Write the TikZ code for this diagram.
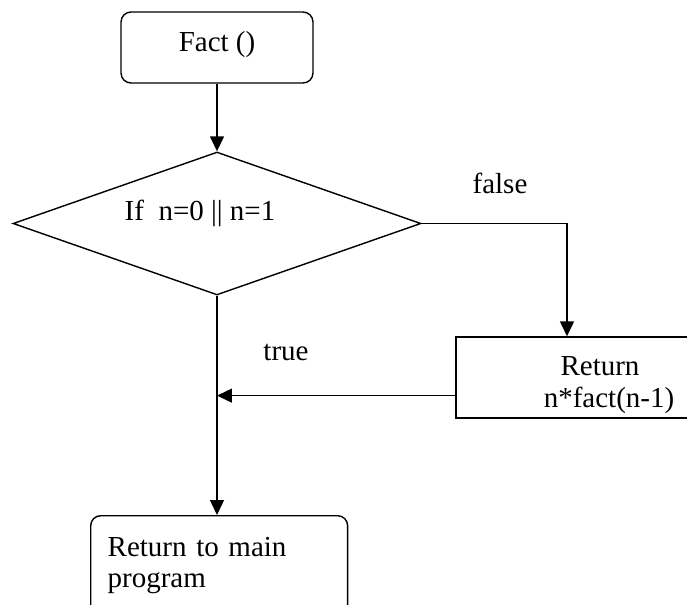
\documentclass[tikz,border=0pt]{standalone}
\usepackage{fontspec}
\setmainfont{Liberation Serif}
\usetikzlibrary{positioning, shapes.geometric, arrows.meta, calc}

\begin{document}
\begin{tikzpicture}[
    x=0.02cm, y=-0.02cm, % pixel grid of the reference
    thick,
    font=\fontsize{16.5}{17.6}\selectfont,
    arrow/.style={
        -{Triangle[length=0.3cm, width=0.28cm]},
        thick
    },
    roundbox/.style={
        rectangle,
        rounded corners=0.2cm,
        draw,
        thick
    },
    plainbox/.style={
        rectangle,
        draw,
        thick
    },
    decision/.style={
        diamond,
        aspect=2.85,
        inner sep=0pt,
        minimum width=8.16cm,
        minimum height=2.86cm,
        draw,
        thick
    }
]
    \useasboundingbox (0,0) rectangle (687,605);
    \clip (0,0) rectangle (687,605);

    % Start
    \node[roundbox, minimum width=3.84cm, minimum height=1.42cm,
          text height=0.38cm, text depth=0.2cm] (fact) at (217,47.5) {Fact ()};

    % Condition
    \node[decision] (cond) at (217,223.5) {};
    \node[anchor=base] (condtxt) at ($(cond.center) + (-17,-3.5)$) {If\ \ n=0 || n=1};

    % Recursive call
    \node[plainbox, minimum width=5.76cm, minimum height=1.62cm, align=center,
          font=\fontsize{16.5}{18.7}\selectfont, inner ysep=0.05cm,
          text height=1.32cm, text depth=0.1cm] (ret) at (600,377.5) {Return\\ \hspace{0.36cm}n*fact(n-1)};

    % End
    \node[roundbox, anchor=north west, text width=4.46cm, inner xsep=0.34cm,
          inner ysep=0.44cm, align=left] (end) at (90,515) {Return to main\\program};

    \coordinate (fx) at (567,221);
    \coordinate (rin) at ($(ret.south west)!0.28!(ret.north west)$);

    \draw[arrow] (fact) -- (cond);
    \draw[arrow] (cond.east) -- (cond.east -| fx) -- (fx |- ret.north);
    \draw[arrow] (cond.south) -- (cond.south |- end.north);
    \draw[arrow] (rin) -- (rin -| cond.south);

    \node[anchor=base] (flbl) at (500,193) {false};
    \node[anchor=base] (tlbl) at (286,360) {true};
\end{tikzpicture}
\end{document}
